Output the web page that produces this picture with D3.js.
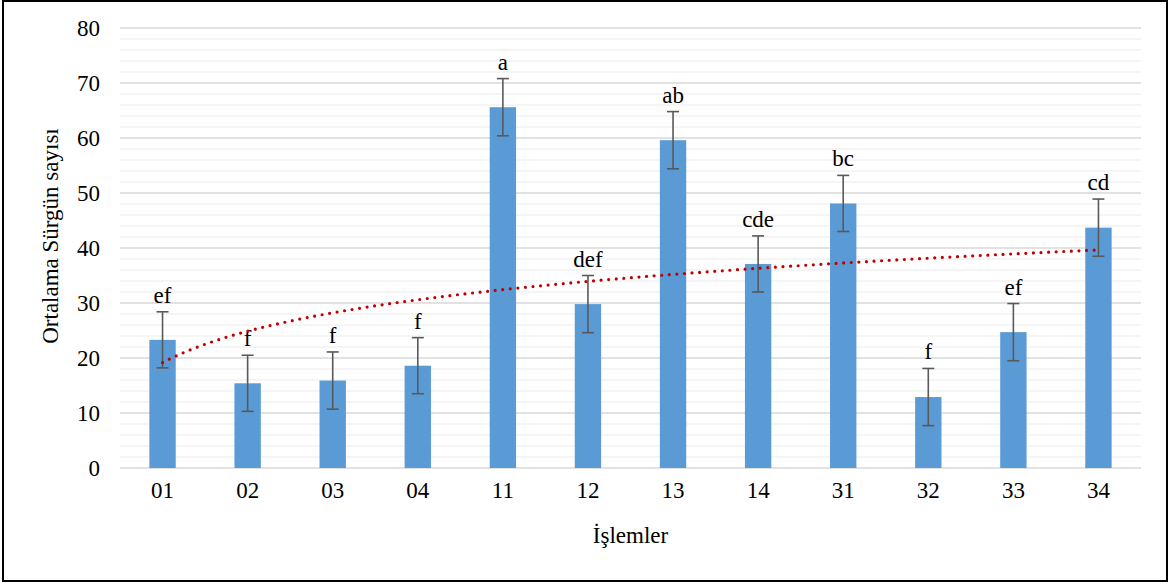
<!DOCTYPE html>
<html>
<head>
<meta charset="utf-8">
<script src="https://cdn.jsdelivr.net/npm/d3@7"></script>
<style>
  body { margin: 0; background: #fff; }
  text { font-family: "Liberation Serif", "Times New Roman", serif; fill: #000; }
</style>
</head>
<body>
<div id="chart"></div>
<script>
// data
const treatments = ["01", "02", "03", "04", "11", "12", "13", "14", "31", "32", "33", "34"];
const means = [23.3, 15.4, 15.9, 18.6, 65.6, 29.8, 59.6, 37.1, 48.1, 12.9, 24.7, 43.7];
const errors = [5.1, 5.1, 5.2, 5.1, 5.2, 5.2, 5.2, 5.1, 5.1, 5.2, 5.2, 5.2];
const letters = ["ef", "f", "f", "f", "a", "def", "ab", "cde", "bc", "f", "ef", "cd"];
const yTicks = [0, 10, 20, 30, 40, 50, 60, 70, 80];

const W = 1172, H = 584;
const margin = {top: 28, right: 31, bottom: 116, left: 120};
const width = W - margin.left - margin.right,
    height = H - margin.top - margin.bottom;
const fs = "23px";

const root = d3.select("#chart").append("svg")
    .attr("width", W)
    .attr("height", H);

// outer frame
root.append("rect")
    .attr("x", 3).attr("y", 1)
    .attr("width", 1164).attr("height", 580)
    .attr("fill", "none")
    .attr("stroke", "#000")
    .attr("stroke-width", 2);

const svg = root.append("g")
    .attr("transform", `translate(${margin.left},${margin.top})`);

const x = d3.scaleBand()
    .domain(treatments)
    .range([0, width])
    .paddingInner(0.69)
    .paddingOuter(0.345);

const y = d3.scaleLinear()
    .domain([0, 80])
    .range([height, 0]);

// minor gridlines every 2
svg.append("g")
    .selectAll("line")
    .data(d3.range(2, 80, 2).filter(v => v % 10 !== 0))
    .join("line")
    .attr("x1", 0).attr("x2", width)
    .attr("y1", d => y(d)).attr("y2", d => y(d))
    .attr("stroke", "#F2F2F2")
    .attr("stroke-width", 1.5);

// major gridlines
svg.append("g")
    .selectAll("line")
    .data(yTicks)
    .join("line")
    .attr("x1", 0).attr("x2", width)
    .attr("y1", d => y(d)).attr("y2", d => y(d))
    .attr("stroke", "#D9D9D9")
    .attr("stroke-width", 1.5);

// Y axis labels
const yAxis = svg.append("g")
    .call(d3.axisLeft(y).tickValues(yTicks).tickSize(0).tickPadding(20));
yAxis.select(".domain").remove();
yAxis.selectAll("text")
    .style("font-family", "Liberation Serif")
    .style("font-size", fs);

// X axis labels
const xAxis = svg.append("g")
    .attr("transform", `translate(0,${height})`)
    .call(d3.axisBottom(x).tickSize(0).tickPadding(14));
xAxis.select(".domain").remove();
xAxis.selectAll("text")
    .style("font-family", "Liberation Serif")
    .style("font-size", fs);

// bars
svg.selectAll("rect.bar")
    .data(treatments)
    .join("rect")
    .attr("class", "bar")
    .attr("x", d => x(d))
    .attr("y", (d, i) => y(means[i]))
    .attr("width", x.bandwidth())
    .attr("height", (d, i) => height - y(means[i]))
    .attr("fill", "#5B9BD5");

// error bars
const eb = svg.append("g")
    .attr("stroke", "#595959")
    .attr("stroke-width", 1.6);
treatments.forEach((t, i) => {
    const cx = x(t) + x.bandwidth() / 2;
    const hi = y(means[i] + errors[i]), lo = y(means[i] - errors[i]);
    eb.append("line").attr("x1", cx).attr("x2", cx).attr("y1", hi).attr("y2", lo);
    eb.append("line").attr("x1", cx - 6).attr("x2", cx + 6).attr("y1", hi).attr("y2", hi);
    eb.append("line").attr("x1", cx - 6).attr("x2", cx + 6).attr("y1", lo).attr("y2", lo);
});

// significance letters
svg.selectAll("text.letter")
    .data(treatments)
    .join("text")
    .attr("class", "letter")
    .attr("x", d => x(d) + x.bandwidth() / 2)
    .attr("y", (d, i) => y(means[i] + errors[i]) - 9)
    .attr("text-anchor", "middle")
    .style("font-size", fs)
    .text((d, i) => letters[i]);

// logarithmic trendline (least squares fit of mean on ln(index))
const lx = means.map((m, i) => Math.log(i + 1));
const mx = d3.mean(lx), my = d3.mean(means);
const slope = d3.sum(lx, (v, i) => (v - mx) * (means[i] - my)) / d3.sum(lx, v => (v - mx) ** 2);
const icept = my - slope * mx;
const step = x.step();
const x0 = x(treatments[0]) + x.bandwidth() / 2;
const trend = d3.range(1, 12.001, 0.05).map(k => [x0 + (k - 1) * step, y(icept + slope * Math.log(k))]);

svg.append("path")
    .attr("d", d3.line()(trend))
    .attr("fill", "none")
    .attr("stroke", "#C00000")
    .attr("stroke-width", 3.2)
    .attr("stroke-linecap", "round")
    .attr("stroke-dasharray", "0 7.6");

// axis titles
svg.append("text")
    .attr("text-anchor", "middle")
    .attr("transform", "rotate(-90)")
    .attr("x", -208)
    .attr("y", -62)
    .style("font-size", fs)
    .text("Ortalama Sürgün sayısı");

svg.append("text")
    .attr("text-anchor", "middle")
    .attr("x", width / 2)
    .attr("y", height + 75)
    .style("font-size", fs)
    .text("İşlemler");
</script>
</body>
</html>
